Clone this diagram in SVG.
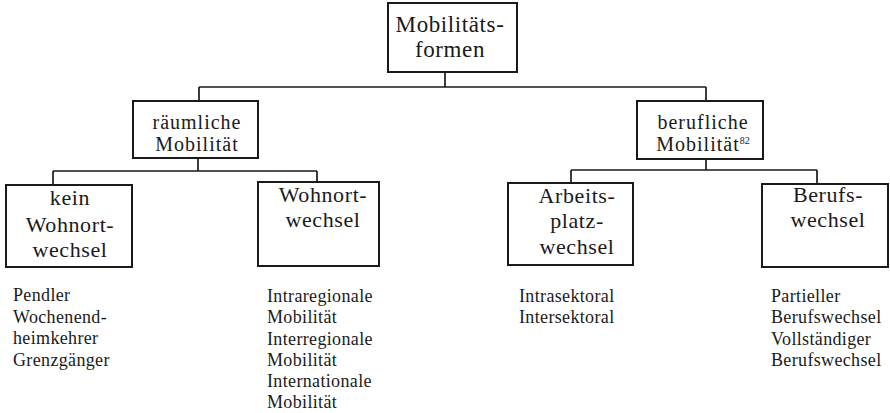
<svg xmlns="http://www.w3.org/2000/svg" width="890" height="413" viewBox="0 0 890 413">
<style>
.box{fill:#fff;stroke:#1a1a1a;stroke-width:2}
.ln{fill:none;stroke:#1a1a1a;stroke-width:1.7}
.bt{font-family:"Liberation Serif","Times New Roman",serif;font-size:22px;letter-spacing:0.6px;fill:#1a1a1a;text-anchor:middle}
.bs{font-size:20px;letter-spacing:1px}
.lt{font-family:"Liberation Serif","Times New Roman",serif;font-size:18px;letter-spacing:0.35px;fill:#1a1a1a}
</style>
<rect width="890" height="413" fill="#fff"/>
<g id="connectors">
<path class="ln" d="M445 72V87M199 87H706M199 87V101M706 87V101"/>
<path class="ln" d="M198 158V171M53 171H317M53 171V185M317 171V182"/>
<path class="ln" d="M706 159V170M571 170H817M571 170V183M817 170V184"/>
</g>
<g id="n-mobilitaetsformen">
<rect class="box" x="388" y="3" width="129" height="69"/>
<text class="bt" x="450" y="32" style="font-size:23px">Mobilitäts-</text>
<text class="bt" x="450" y="57" style="font-size:23px">formen</text>
</g>
<g id="n-raeumlich">
<rect class="box" x="133" y="101" width="125" height="57"/>
<text class="bt bs" x="197" y="129">räumliche</text>
<text class="bt bs" x="197" y="151">Mobilität</text>
</g>
<g id="n-beruflich">
<rect class="box" x="637" y="101" width="126" height="58"/>
<text class="bt bs" x="703" y="129">berufliche</text>
<text class="bt bs" x="703" y="151">Mobilität<tspan font-size="10" letter-spacing="0" dy="-7">82</tspan></text>
</g>
<g id="n-kein-wohnortwechsel">
<rect class="box" x="6" y="185" width="126" height="82"/>
<text class="bt" x="70" y="205">kein</text>
<text class="bt" x="70" y="232">Wohnort-</text>
<text class="bt" x="70" y="257">wechsel</text>
</g>
<g id="n-wohnortwechsel">
<rect class="box" x="258" y="182" width="121" height="84"/>
<text class="bt" x="323" y="202">Wohnort-</text>
<text class="bt" x="323" y="227">wechsel</text>
</g>
<g id="n-arbeitsplatzwechsel">
<rect class="box" x="508" y="183" width="125" height="82"/>
<text class="bt" x="577" y="203">Arbeits-</text>
<text class="bt" x="577" y="228">platz-</text>
<text class="bt" x="577" y="254">wechsel</text>
</g>
<g id="n-berufswechsel">
<rect class="box" x="762" y="184" width="126" height="83"/>
<text class="bt" x="828" y="202">Berufs-</text>
<text class="bt" x="828" y="227">wechsel</text>
</g>
<g id="list-kein">
<text class="lt" x="13" y="301">Pendler</text>
<text class="lt" x="13" y="323">Wochenend-</text>
<text class="lt" x="13" y="344">heimkehrer</text>
<text class="lt" x="13" y="366">Grenzgänger</text>
</g>
<g id="list-wohnort">
<text class="lt" x="267" y="302">Intraregionale</text>
<text class="lt" x="267" y="323">Mobilität</text>
<text class="lt" x="267" y="345">Interregionale</text>
<text class="lt" x="267" y="366">Mobilität</text>
<text class="lt" x="267" y="387">Internationale</text>
<text class="lt" x="267" y="408">Mobilität</text>
</g>
<g id="list-arbeitsplatz">
<text class="lt" x="519" y="302">Intrasektoral</text>
<text class="lt" x="519" y="323">Intersektoral</text>
</g>
<g id="list-beruf">
<text class="lt" x="771" y="302">Partieller</text>
<text class="lt" x="771" y="323">Berufswechsel</text>
<text class="lt" x="771" y="345">Vollständiger</text>
<text class="lt" x="771" y="366">Berufswechsel</text>
</g>
</svg>
